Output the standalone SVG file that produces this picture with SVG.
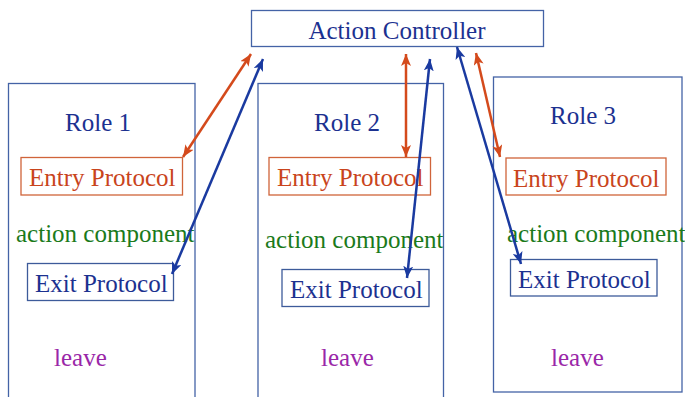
<svg xmlns="http://www.w3.org/2000/svg" width="685" height="397" viewBox="0 0 685 397">
<style>
text{font-family:"Liberation Serif","Times New Roman",serif;font-size:25px}
.box{fill:none;stroke:#4463a6;stroke-width:1.3}
.ebox{fill:none;stroke:#d0643a;stroke-width:1.3}
.xbox{fill:none;stroke:#3d5b9a;stroke-width:1.3}
.blue{fill:#1c3190}
.org{fill:#c9441c}
.grn{fill:#1b7a1b}
.pur{fill:#9a27a8}
.ao{stroke:#d44a1c;stroke-width:2.5;fill:none}
.ab{stroke:#1a3aa0;stroke-width:2.5;fill:none}
</style>
<defs>
<marker id="ho" viewBox="0 0 12 10" refX="12" refY="5" markerWidth="12" markerHeight="10" markerUnits="userSpaceOnUse" orient="auto-start-reverse"><path d="M0,0 L12,5 L0,10 L3,5 Z" fill="#d44a1c"/></marker>
<marker id="hb" viewBox="0 0 12 10" refX="12" refY="5" markerWidth="12" markerHeight="10" markerUnits="userSpaceOnUse" orient="auto-start-reverse"><path d="M0,0 L12,5 L0,10 L3,5 Z" fill="#1a3aa0"/></marker>
</defs>
<rect width="685" height="397" fill="#fff"/>
<g id="controller">
<rect class="box" x="251.5" y="10.5" width="292" height="36"/>
<text class="blue" x="397" y="39" text-anchor="middle">Action Controller</text>
</g>
<g id="role1">
<rect class="box" x="8.5" y="83.5" width="186.5" height="330"/>
<text class="blue" x="98" y="131" text-anchor="middle">Role 1</text>
<rect class="ebox" x="21" y="157.5" width="161.5" height="37.5"/>
<text class="org" x="29" y="186">Entry Protocol</text>
<text class="grn" x="16" y="242">action component</text>
<rect class="xbox" x="27.5" y="263.5" width="146" height="37"/>
<text class="blue" x="35" y="292">Exit Protocol</text>
<text class="pur" x="54" y="366">leave</text>
</g>
<g id="role2">
<rect class="box" x="258" y="83.5" width="185.5" height="330"/>
<text class="blue" x="347" y="131" text-anchor="middle">Role 2</text>
<rect class="ebox" x="269" y="157.5" width="161.5" height="37.5"/>
<text class="org" x="277" y="186">Entry Protocol</text>
<text class="grn" x="265" y="248">action component</text>
<rect class="xbox" x="282" y="269.5" width="147" height="37"/>
<text class="blue" x="290" y="298">Exit Protocol</text>
<text class="pur" x="321" y="366">leave</text>
</g>
<g id="role3">
<rect class="box" x="493.5" y="77" width="188.5" height="315"/>
<text class="blue" x="583" y="124" text-anchor="middle">Role 3</text>
<rect class="ebox" x="506" y="158" width="160" height="37"/>
<text class="org" x="513" y="187">Entry Protocol</text>
<text class="grn" x="507" y="242">action component</text>
<rect class="xbox" x="510.5" y="259.5" width="146.5" height="36.5"/>
<text class="blue" x="518" y="288">Exit Protocol</text>
<text class="pur" x="551" y="366">leave</text>
</g>
<g id="connectors">
<line class="ao" x1="251" y1="54" x2="183" y2="157" marker-start="url(#ho)" marker-end="url(#ho)"/>
<line class="ab" x1="263" y1="59" x2="172" y2="274" marker-start="url(#hb)" marker-end="url(#hb)"/>
<line class="ao" x1="406" y1="54" x2="406" y2="157" marker-start="url(#ho)" marker-end="url(#ho)"/>
<line class="ab" x1="430" y1="59" x2="407" y2="278" marker-start="url(#hb)" marker-end="url(#hb)"/>
<line class="ab" x1="457" y1="47" x2="521" y2="264" marker-start="url(#hb)" marker-end="url(#hb)"/>
<line class="ao" x1="476" y1="53" x2="500" y2="157" marker-start="url(#ho)" marker-end="url(#ho)"/>
</g>
</svg>
